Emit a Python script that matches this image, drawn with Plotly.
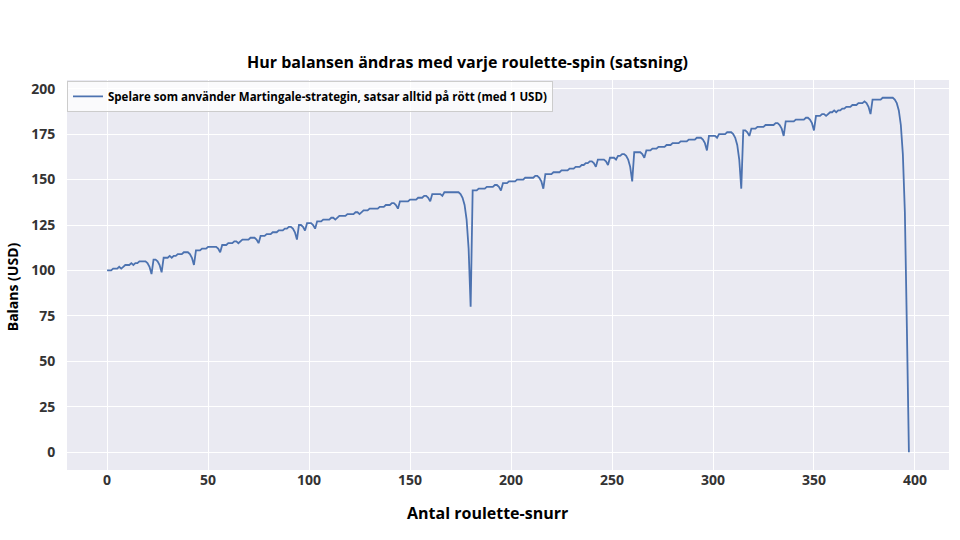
import plotly.graph_objects as go

title_text = "Hur balansen ändras med varje roulette-spin (satsning)"
series_name = "Spelare som använder Martingale-strategin, satsar alltid på rött (med 1 USD)"
x_title = "Antal roulette-snurr"
y_title = "Balans (USD)"

x_ticks = [0, 50, 100, 150, 200, 250, 300, 350, 400]
y_ticks = [0, 25, 50, 75, 100, 125, 150, 175, 200]

balance = [
    100, 100, 100, 101, 101, 101, 102, 101, 102, 103,
    103, 103, 104, 103, 104, 104, 105, 105, 105, 105,
    104, 102, 98, 106, 106, 105, 103, 99, 107, 107,
    107, 108, 107, 108, 108, 109, 109, 109, 110, 110,
    110, 109, 107, 103, 111, 111, 111, 112, 112, 112,
    113, 113, 113, 113, 113, 112, 110, 114, 114, 114,
    115, 115, 115, 116, 116, 115, 116, 117, 117, 117,
    117, 118, 118, 118, 117, 115, 119, 119, 119, 120,
    120, 120, 121, 121, 121, 122, 122, 122, 123, 123,
    124, 124, 123, 121, 117, 125, 125, 124, 122, 126,
    126, 126, 125, 123, 127, 127, 127, 128, 128, 128,
    128, 129, 129, 128, 129, 130, 130, 130, 130, 131,
    131, 131, 131, 132, 132, 131, 132, 133, 133, 133,
    134, 134, 134, 134, 134, 135, 135, 135, 136,
    136, 136, 137, 137, 136, 134, 138, 138, 138, 138,
    138, 139, 139, 139, 139, 140, 140, 140, 141, 141,
    140, 138, 142, 142, 142, 142, 142, 141, 143, 143,
    143, 143, 143, 143, 143, 143, 142, 140, 136, 128,
    112, 80, 144, 144, 144, 145, 145, 145, 145, 146,
    146, 146, 146, 147, 147, 146, 144, 148, 148, 148,
    149, 149, 149, 149, 150, 150, 150, 150, 151,
    151, 151, 151, 151, 152, 152, 151, 149, 145, 153,
    153, 153, 153, 154, 154, 154, 154, 155, 155, 155,
    155, 156, 156, 156, 157, 157, 157, 158, 158, 159,
    159, 160, 160, 159, 157, 161, 161, 161, 161, 160,
    158, 162, 162, 162, 161, 163, 163, 164, 164, 163,
    161, 157, 149, 165, 165, 165, 165, 164, 162, 166,
    166, 166, 167, 167, 167, 168, 168, 168, 168, 169,
    169, 169, 170, 170, 170, 170, 171, 171, 171, 171,
    172, 172, 172, 172, 173, 173, 173, 172, 170, 166,
    174, 174, 174, 174, 173, 175, 175, 175, 175, 176,
    176, 176, 175, 173, 169, 161, 145, 177, 177, 176,
    174, 178, 178, 178, 179, 179, 179, 179, 180, 180,
    180, 180, 180, 181, 181, 180, 178, 174, 182, 182,
    182, 182, 182, 183, 183, 183, 183, 183, 184, 184,
    183, 181, 177, 185, 185, 185, 186, 186, 185, 186,
    187, 187, 188, 187, 188, 188, 189, 189, 190, 190,
    190, 191, 191, 191, 192, 192, 192, 193, 192, 190,
    186, 194, 194, 194, 194, 194, 195, 195, 195, 195,
    195, 195, 194, 192, 188, 180, 164, 132, 68, 0,
]
spins = list(range(len(balance)))

FONT = "Open Sans"
n = len(balance) - 1
pad_x = 0.05 * n
pad_y = 0.05 * (max(balance) - min(balance))

fig = go.Figure()
fig.add_trace(go.Scatter(
    x=spins, y=balance, mode="lines", name=series_name,
    line=dict(color="#4C72B0", width=1.8),
))

fig.update_layout(
    width=960, height=540,
    paper_bgcolor="white",
    plot_bgcolor="#EAEAF2",
    margin=dict(l=67, r=11, t=80, b=70),
    font=dict(family=FONT, color="#222222"),
    title=dict(
        text=title_text, x=0.487, xanchor="center",
        y=1 - 62 / 540, yanchor="middle", yref="container",
        font=dict(family=FONT, size=16, color="black", weight="bold"),
    ),
    showlegend=True,
    legend=dict(
        x=0.0, y=0.998, xanchor="left", yanchor="top",
        bgcolor="rgba(255,255,255,0.75)", bordercolor="#CCCCCC", borderwidth=1,
        font=dict(family=FONT, size=11.5, color="black", weight="bold"),
        itemwidth=30, tracegroupgap=0,
    ),
    xaxis=dict(
        range=[-pad_x, n + pad_x],
        tickmode="array", tickvals=x_ticks,
        showgrid=True, gridcolor="white", gridwidth=1.2,
        zeroline=False, showline=False,
        ticks="",
        tickfont=dict(family=FONT, size=14, color="#333333", weight="bold"),
    ),
    yaxis=dict(
        range=[min(balance) - pad_y, max(balance) + pad_y],
        tickmode="array", tickvals=y_ticks,
        showgrid=True, gridcolor="white", gridwidth=1.2,
        zeroline=False, showline=False,
        ticks="outside", ticklen=8, tickcolor="rgba(0,0,0,0)",
        tickfont=dict(family=FONT, size=14, color="#333333", weight="bold"),
    ),
    annotations=[
        dict(text=x_title, xref="paper", yref="paper", x=0.477, y=-0.109,
             xanchor="center", yanchor="middle", showarrow=False,
             font=dict(family=FONT, size=16, color="black", weight="bold")),
        dict(text=y_title, xref="paper", yref="paper", x=-0.0624, y=0.471,
             xanchor="center", yanchor="middle", showarrow=False, textangle=-90,
             font=dict(family=FONT, size=14, color="black", weight="bold")),
    ],
)

fig.write_html("out.html")
